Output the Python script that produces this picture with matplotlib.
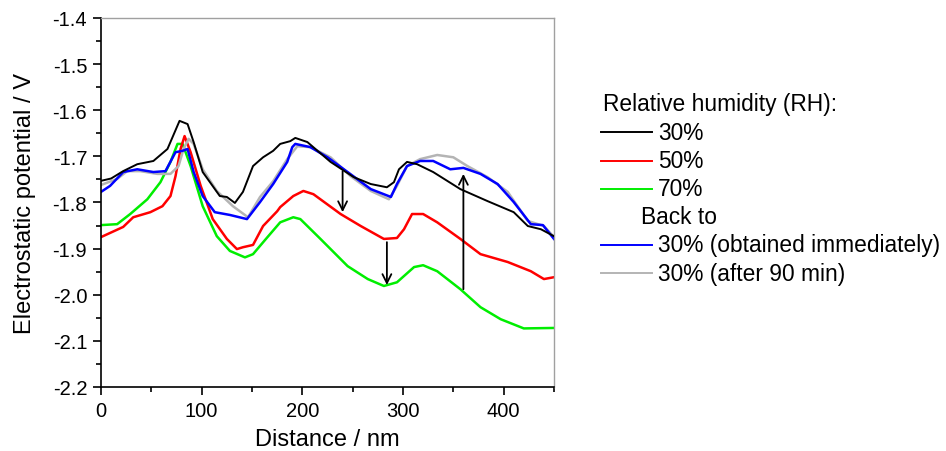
import numpy as np
from matplotlib import pyplot as plt
from matplotlib.lines import Line2D

plt.rcParams['font.family'] = ['Liberation Sans', 'DejaVu Sans']

# Potential profiles (distance in nm, potential in V)
x_30 = [0, 10, 22, 36, 52, 66, 78, 86, 92, 101, 118, 125, 133, 141, 151, 161, 171, 178, 188,
        193, 205, 228, 251, 268, 284, 291, 296, 304, 314, 330, 357, 384, 410, 424, 437, 450]
y_30 = [-1.753, -1.748, -1.732, -1.717, -1.710, -1.684, -1.623, -1.630, -1.669, -1.734, -1.786,
        -1.788, -1.801, -1.777, -1.721, -1.702, -1.688, -1.673, -1.667, -1.660, -1.669,
        -1.712, -1.745, -1.760, -1.767, -1.756, -1.728, -1.712, -1.717, -1.734, -1.771,
        -1.797, -1.821, -1.851, -1.858, -1.873]

x_50 = [0, 22, 32, 49, 61, 69, 74, 79, 83, 89, 99, 111, 125, 135, 141, 151, 161, 175, 178,
        191, 201, 211, 238, 258, 281, 294, 301, 309, 320, 334, 357, 377, 404, 427, 440, 450]
y_50 = [-1.875, -1.853, -1.832, -1.821, -1.808, -1.786, -1.743, -1.684, -1.656, -1.691,
        -1.764, -1.836, -1.879, -1.901, -1.897, -1.892, -1.851, -1.819, -1.810, -1.786,
        -1.775, -1.782, -1.825, -1.851, -1.879, -1.877, -1.858, -1.825, -1.825, -1.843,
        -1.879, -1.912, -1.929, -1.949, -1.966, -1.962]

x_70 = [0, 16, 29, 46, 59, 69, 76, 81, 89, 101, 115, 128, 143, 151, 165, 178, 191, 198,
        218, 245, 265, 281, 294, 311, 320, 334, 357, 377, 397, 420, 450]
y_70 = [-1.849, -1.847, -1.825, -1.793, -1.756, -1.712, -1.673, -1.673, -1.721, -1.808,
        -1.873, -1.905, -1.919, -1.912, -1.876, -1.843, -1.832, -1.836, -1.879, -1.938,
        -1.966, -1.981, -1.973, -1.940, -1.936, -1.949, -1.988, -2.027, -2.053, -2.073,
        -2.072]

x_back = [0, 9, 22, 36, 52, 64, 74, 81, 86, 92, 101, 113, 128, 145, 158, 171, 185, 190,
          193, 208, 225, 245, 268, 288, 294, 304, 317, 330, 347, 360, 377, 394, 410, 427,
          439, 450]
y_back = [-1.777, -1.764, -1.734, -1.728, -1.734, -1.732, -1.691, -1.688, -1.684, -1.734,
          -1.786, -1.821, -1.827, -1.836, -1.799, -1.760, -1.712, -1.680, -1.673, -1.680,
          -1.702, -1.734, -1.771, -1.788, -1.760, -1.721, -1.710, -1.710, -1.728, -1.725,
          -1.738, -1.760, -1.799, -1.847, -1.849, -1.879]

x_90 = [0, 16, 26, 39, 56, 69, 77, 82, 87, 92, 101, 115, 131, 146, 158, 171, 185, 195,
        208, 228, 248, 268, 286, 294, 304, 317, 334, 350, 364, 384, 404, 424, 440, 450]
y_90 = [-1.762, -1.749, -1.732, -1.732, -1.738, -1.738, -1.721, -1.684, -1.662, -1.673,
        -1.728, -1.775, -1.808, -1.832, -1.788, -1.754, -1.706, -1.678, -1.680, -1.702,
        -1.743, -1.775, -1.793, -1.764, -1.721, -1.706, -1.697, -1.702, -1.721, -1.745,
        -1.777, -1.840, -1.851, -1.875]

# arrows: (x, start, end)
arrows = [(240, -1.732, -1.821), (284, -1.886, -1.979), (360, -1.988, -1.738)]

labels = ['30%', '50%', '70%', '30% (obtained immediately)', '30% (after 90 min)']
colors = ['black', '#ff0000', '#00ee00', '#0000ff', '#b4b4b4']

fig = plt.figure(figsize=(9.46, 4.52), dpi=100)
ax = fig.add_axes([0.1068, 0.1416, 0.4788, 0.8164])

series = [(x_30, y_30), (x_50, y_50), (x_70, y_70), (x_back, y_back), (x_90, y_90)]
widths = [1.4, 1.8, 1.8, 1.8, 1.8]
order = [2, 1, 4, 3, 0]
for i in order:
    xs, ys = series[i]
    ax.plot(xs, ys, color=colors[i], lw=widths[i], zorder=2 + (i == 0),
            solid_joinstyle='round')

for xa, y0, y1 in arrows:
    ax.annotate('', xy=(xa, y1), xytext=(xa, y0),
                arrowprops=dict(arrowstyle='->', color='black', lw=1.3,
                                mutation_scale=16, shrinkA=0, shrinkB=0), zorder=5)

ax.set_xlim(0, 450)
ax.set_ylim(-2.2, -1.4)
ax.set_xticks([0, 100, 200, 300, 400])
ax.set_xticks([50, 150, 250, 350, 450], minor=True)
ax.set_yticks(np.round(np.arange(-2.2, -1.39, 0.1), 1))
ax.set_yticks(np.round(np.arange(-2.15, -1.4, 0.1), 2), minor=True)
ax.yaxis.set_major_formatter(plt.FuncFormatter(lambda v, p: f'{v:.1f}'))
ax.tick_params(which='major', direction='out', length=6, width=1.2, labelsize=14.5, pad=4)
ax.tick_params(which='minor', direction='out', length=3.5, width=1.2)
ax.tick_params(top=False, right=False)
for s in ['left', 'bottom']:
    ax.spines[s].set_linewidth(1.2)
for s in ['top', 'right']:
    ax.spines[s].set_color('#a0a0a0')
    ax.spines[s].set_linewidth(1.0)

ax.set_xlabel('Distance / nm', fontsize=17, labelpad=6)
ax.set_ylabel('Electrostatic potential / V', fontsize=17, labelpad=12)

# legend, built by hand
fs = 16.4
fig.text(603 / 946, 1 - 105 / 452, 'Relative humidity (RH):', fontsize=fs, va='center', ha='left')
rows = [133, 162, 190, 246, 274]
for i, r in enumerate(rows):
    yy = 1 - r / 452
    fig.add_artist(Line2D([601 / 946, 652 / 946], [yy, yy], color=colors[i], lw=1.4,
                          transform=fig.transFigure))
    fig.text(658 / 946, yy, labels[i], fontsize=fs, va='center', ha='left')
fig.text(641 / 946, 1 - 218 / 452, 'Back to', fontsize=fs, va='center', ha='left')

fig.savefig('out.png', dpi=100)
